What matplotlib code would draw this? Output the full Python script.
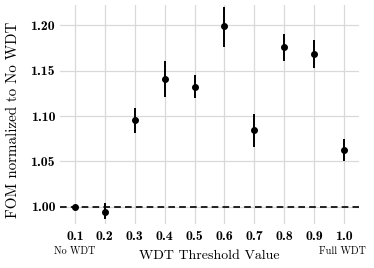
import matplotlib
matplotlib.use("Agg")
import matplotlib.pyplot as plt
from matplotlib.ticker import FormatStrFormatter

thresholds = [0.1, 0.2, 0.3, 0.4, 0.5, 0.6, 0.7, 0.8, 0.9, 1.0]
fom = [1.000, 0.995, 1.096, 1.141, 1.132, 1.199, 1.085, 1.176, 1.168, 1.063]
err_low = [0.0005, 0.008, 0.015, 0.020, 0.012, 0.023, 0.019, 0.016, 0.015, 0.013]
err_high = [0.0005, 0.009, 0.013, 0.019, 0.013, 0.021, 0.017, 0.014, 0.015, 0.012]
yticks = [1.00, 1.05, 1.10, 1.15, 1.20]

plt.rcParams['axes.formatter.use_mathtext'] = True

W, H = 374, 268
ax_left, ax_right, ax_top, ax_bot = 60, 359, 5, 224
fig = plt.figure(figsize=(W / 100, H / 100), dpi=100)
ax = fig.add_axes([ax_left / W, 1 - ax_bot / H, (ax_right - ax_left) / W, (ax_bot - ax_top) / H])
axh = ax_bot - ax_top

ax.errorbar(thresholds, fom, yerr=[err_low, err_high], fmt='o', color='black',
            markersize=4, elinewidth=1.4, capsize=0, zorder=3)
ax.axhline(1.0, color='black', linestyle='--', linewidth=1.2, dashes=(4, 2.5), zorder=2)

ax.set_xlim(0.05, 1.05)
ax.set_ylim(0.9813, 1.222)
ax.set_xticks(thresholds)
ax.set_yticks(yticks)
ax.xaxis.set_major_formatter(FormatStrFormatter('%.1f'))
ax.yaxis.set_major_formatter(FormatStrFormatter('%.2f'))
ax.grid(True, color='#d9d9d9', linewidth=0.9, zorder=0)
ax.set_axisbelow(True)
for s in ax.spines.values():
    s.set_visible(False)
ax.tick_params(axis='x', length=0, pad=5)
ax.tick_params(axis='y', length=0, pad=3.5)
for lab in ax.get_xticklabels() + ax.get_yticklabels():
    lab.set_family('cmb10')
    lab.set_fontsize(10)

ax.set_xlabel('WDT Threshold Value', family='cmr10', fontsize=10, va='center')
ax.xaxis.set_label_coords(0.5, -(256 - ax_bot) / axh)
ax.set_ylabel('FOM normalized to No WDT', family='cmr10', fontsize=10.8, va='center')
ax.yaxis.set_label_coords(-(ax_left - 13) / (ax_right - ax_left), 0.5 - 5 / axh)

ax.text(0.1, -(251 - ax_bot) / axh, 'No WDT', transform=ax.get_xaxis_transform(), ha='center',
        va='center', family='cmr10', fontsize=7.3)
ax.text(0.993, -(251 - ax_bot) / axh, 'Full WDT', transform=ax.get_xaxis_transform(), ha='center',
        va='center', family='cmr10', fontsize=7.3)

fig.savefig('out.png', dpi=100)
